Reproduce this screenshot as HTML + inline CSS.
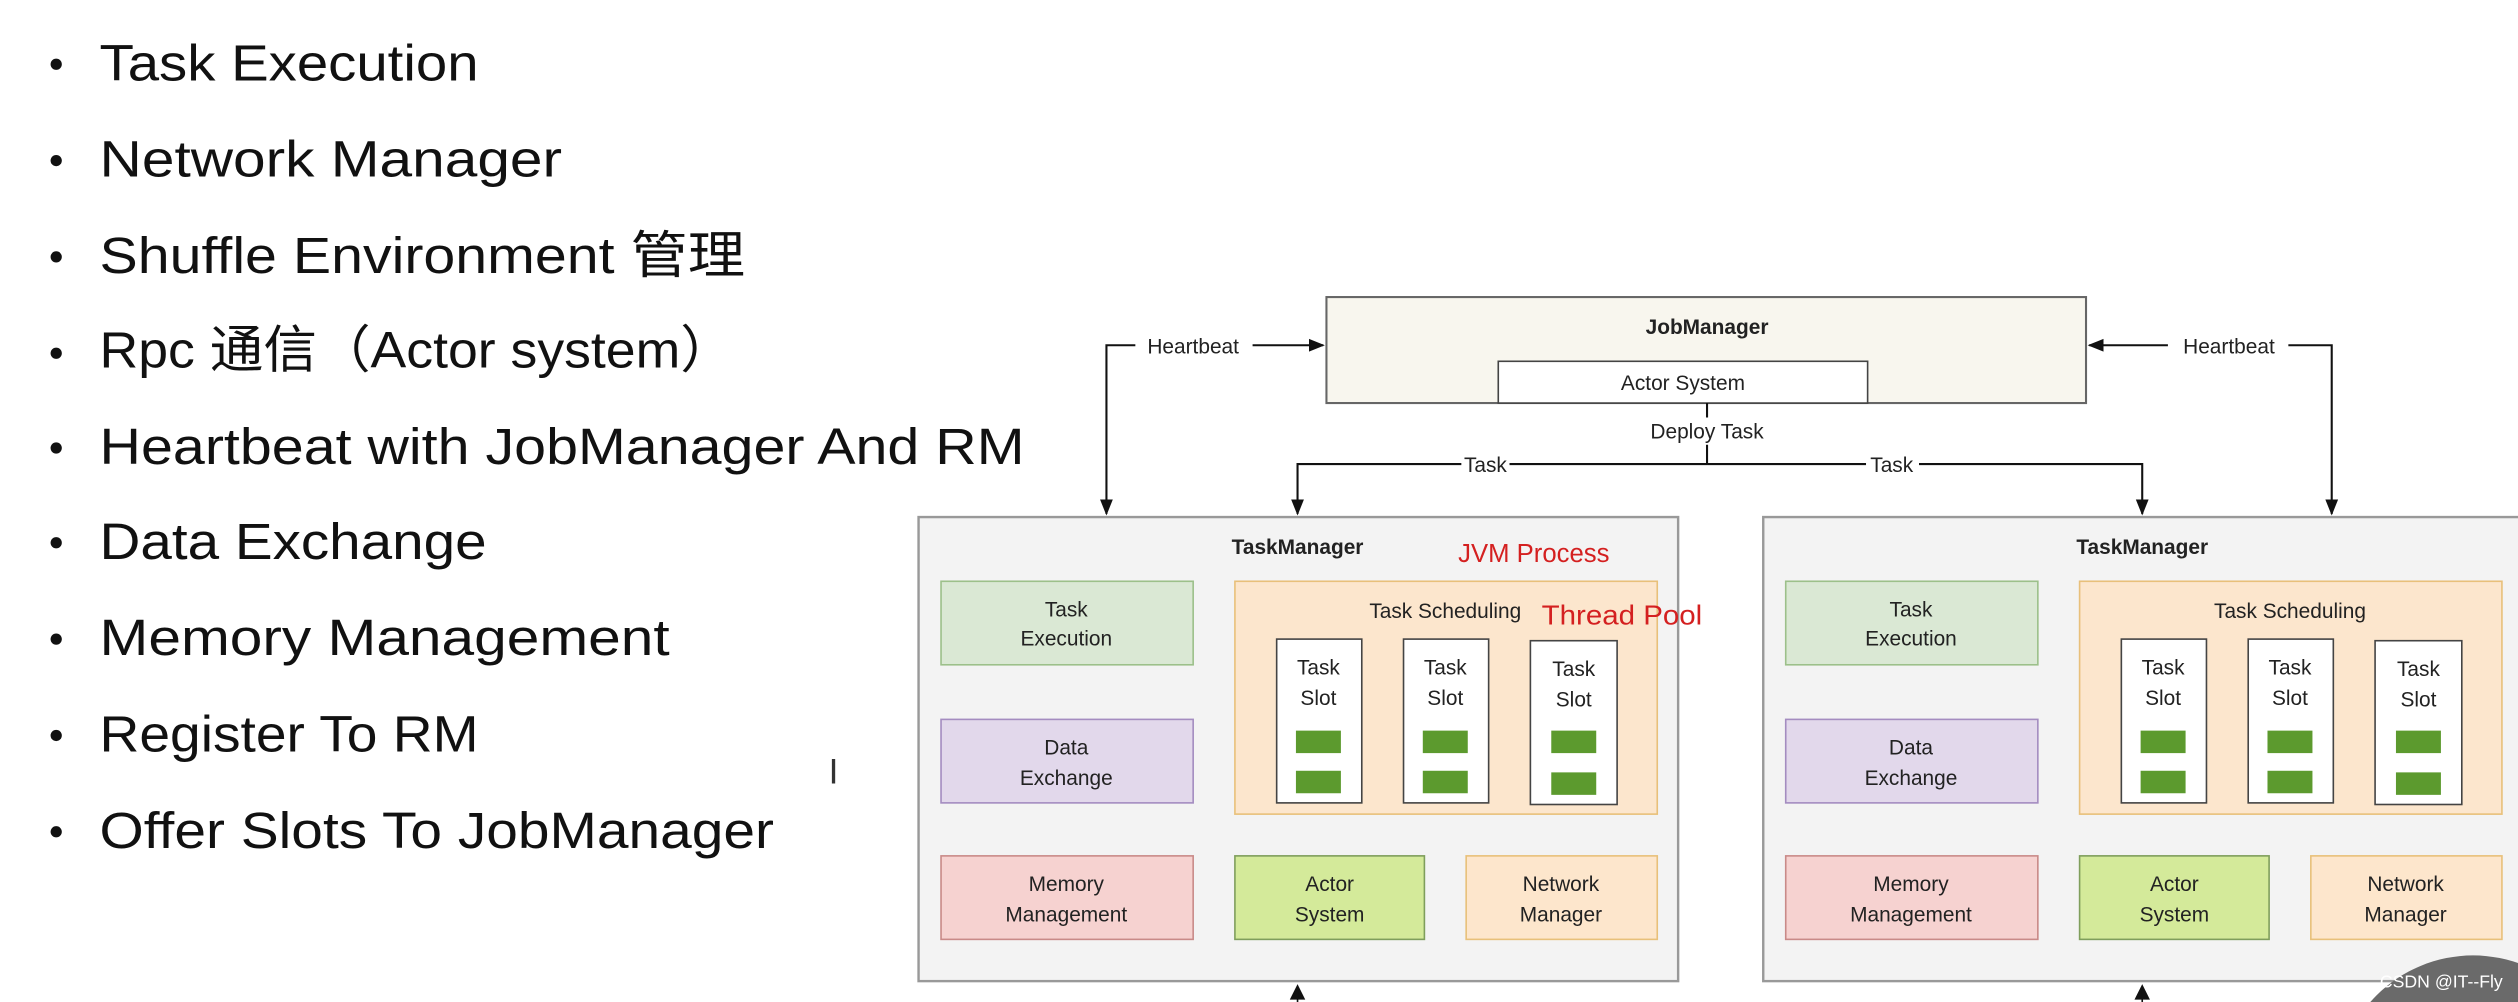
<!DOCTYPE html>
<html><head><meta charset="utf-8"><style>
html,body{margin:0;padding:0;background:#fff;width:2518px;height:1002px;overflow:hidden}
svg{display:block;overflow:hidden}
text{font-family:"Liberation Sans","Noto Sans CJK SC",sans-serif}
</style></head><body>
<svg width="2518" height="1002" viewBox="0 0 1568 624" preserveAspectRatio="none" xmlns="http://www.w3.org/2000/svg">
<defs>
<marker id="a" markerWidth="10" markerHeight="10" refX="9" refY="5" orient="auto" markerUnits="userSpaceOnUse"><path d="M0,1 L10,5 L0,9 Z" fill="#111"/></marker>
<clipPath id="c"><rect x="0" y="0" width="1568" height="624"/></clipPath>
</defs>
<rect width="1568" height="624" fill="#fff"/>
<g font-size="32" fill="#111">
<circle cx="35" cy="40" r="3.5"/><text x="62" y="50" textLength="236" lengthAdjust="spacingAndGlyphs">Task Execution</text>
<circle cx="35" cy="100" r="3.5"/><text x="62" y="110" textLength="288" lengthAdjust="spacingAndGlyphs">Network Manager</text>
<circle cx="35" cy="160" r="3.5"/><text x="62" y="170" textLength="402" lengthAdjust="spacingAndGlyphs">Shuffle Environment 管理</text>
<circle cx="35" cy="220" r="3.5"/><text x="62" y="229" textLength="395" lengthAdjust="spacingAndGlyphs">Rpc 通信（Actor system）</text>
<circle cx="35" cy="279" r="3.5"/><text x="62" y="289" textLength="576" lengthAdjust="spacingAndGlyphs">Heartbeat with JobManager And RM</text>
<circle cx="35" cy="338" r="3.5"/><text x="62" y="348" textLength="241" lengthAdjust="spacingAndGlyphs">Data Exchange</text>
<circle cx="35" cy="398" r="3.5"/><text x="62" y="408" textLength="355" lengthAdjust="spacingAndGlyphs">Memory Management</text>
<circle cx="35" cy="458" r="3.5"/><text x="62" y="468" textLength="236" lengthAdjust="spacingAndGlyphs">Register To RM</text>
<circle cx="35" cy="518" r="3.5"/><text x="62" y="528" textLength="420" lengthAdjust="spacingAndGlyphs">Offer Slots To JobManager</text>
</g>
<text x="516" y="488" font-size="22" fill="#333">I</text>

<rect x="826" y="185" width="473" height="66" fill="#f8f6ee" stroke="#666" stroke-width="1.3"/>
<text x="1063" y="208" font-size="13" font-weight="bold" text-anchor="middle" fill="#222">JobManager</text>
<rect x="933" y="225" width="230" height="26" fill="#fff" stroke="#444" stroke-width="1"/>
<text x="1048" y="243" font-size="13" text-anchor="middle" fill="#222">Actor System</text>

<g stroke="#111" stroke-width="1.3" fill="none">
<path d="M1063,251 V260 M1063,277 V289"/>
<path d="M1063,289 H940 M910,289 H808 V320" marker-end="url(#a)"/>
<path d="M1063,289 H1162 M1195,289 H1334 V320" marker-end="url(#a)"/>
<path d="M707,215 H689 V320" marker-end="url(#a)"/>
<path d="M780,215 H824" marker-end="url(#a)"/>
<path d="M1425,215 H1452 V320" marker-end="url(#a)"/>
<path d="M1350,215 H1301" marker-end="url(#a)"/>
</g>
<g font-size="13" fill="#222" text-anchor="middle">
<text x="1063" y="273">Deploy Task</text>
<text x="925" y="294">Task</text>
<text x="1178" y="294">Task</text>
<text x="743" y="220">Heartbeat</text>
<text x="1388" y="220">Heartbeat</text>
</g>

<g clip-path="url(#c)">
<g id="tm">
<rect x="572" y="322" width="473" height="289" fill="#f3f3f3" stroke="#999" stroke-width="1.5"/>
<text x="808" y="345" font-size="13" font-weight="bold" text-anchor="middle" fill="#222">TaskManager</text>
<rect x="586" y="362" width="157" height="52" fill="#dae8d4" stroke="#9cc08a"/>
<text x="664" y="384" font-size="13" text-anchor="middle" fill="#222">Task</text>
<text x="664" y="402" font-size="13" text-anchor="middle" fill="#222">Execution</text>
<rect x="586" y="448" width="157" height="52" fill="#e2d8eb" stroke="#a48cc0"/>
<text x="664" y="470" font-size="13" text-anchor="middle" fill="#222">Data</text>
<text x="664" y="489" font-size="13" text-anchor="middle" fill="#222">Exchange</text>
<rect x="586" y="533" width="157" height="52" fill="#f6d2d0" stroke="#c98a88"/>
<text x="664" y="555" font-size="13" text-anchor="middle" fill="#222">Memory</text>
<text x="664" y="574" font-size="13" text-anchor="middle" fill="#222">Management</text>
<rect x="769" y="362" width="263" height="145" fill="#fce6cd" stroke="#e8c07a"/>
<text x="900" y="385" font-size="13" text-anchor="middle" fill="#222">Task Scheduling</text>
<g font-size="13" text-anchor="middle" fill="#222">
<rect x="795" y="398" width="53" height="102" fill="#fff" stroke="#444"/>
<text x="821" y="420">Task</text><text x="821" y="439">Slot</text>
<rect x="807" y="455" width="28" height="14" fill="#5c9a2e"/><rect x="807" y="480" width="28" height="14" fill="#5c9a2e"/>
<rect x="874" y="398" width="53" height="102" fill="#fff" stroke="#444"/>
<text x="900" y="420">Task</text><text x="900" y="439">Slot</text>
<rect x="886" y="455" width="28" height="14" fill="#5c9a2e"/><rect x="886" y="480" width="28" height="14" fill="#5c9a2e"/>
<rect x="953" y="399" width="54" height="102" fill="#fff" stroke="#444"/>
<text x="980" y="421">Task</text><text x="980" y="440">Slot</text>
<rect x="966" y="455" width="28" height="14" fill="#5c9a2e"/><rect x="966" y="481" width="28" height="14" fill="#5c9a2e"/>
</g>
<rect x="769" y="533" width="118" height="52" fill="#d4ea9a" stroke="#7f9e5c"/>
<text x="828" y="555" font-size="13" text-anchor="middle" fill="#222">Actor</text>
<text x="828" y="574" font-size="13" text-anchor="middle" fill="#222">System</text>
<rect x="913" y="533" width="119" height="52" fill="#fde6cc" stroke="#e8c07a"/>
<text x="972" y="555" font-size="13" text-anchor="middle" fill="#222">Network</text>
<text x="972" y="574" font-size="13" text-anchor="middle" fill="#222">Manager</text>
<path d="M808,624 V616 M804,622 L808,614 L812,622 Z" stroke="#111" fill="#111"/>
</g>
<use href="#tm" transform="translate(526,0)"/>
<circle cx="1540" cy="680" r="85" fill="#6a6a6a"/>
<circle cx="1545" cy="680" r="40" fill="#222"/>
</g>

<text x="908" y="350" font-size="16" fill="#d42020">JVM Process</text>
<text x="960" y="389" font-size="17" fill="#d42020" textLength="100" lengthAdjust="spacingAndGlyphs">Thread Pool</text>
<text x="1482" y="615" font-size="11" fill="#fff">CSDN @IT--Fly</text>
</svg>
</body></html>
